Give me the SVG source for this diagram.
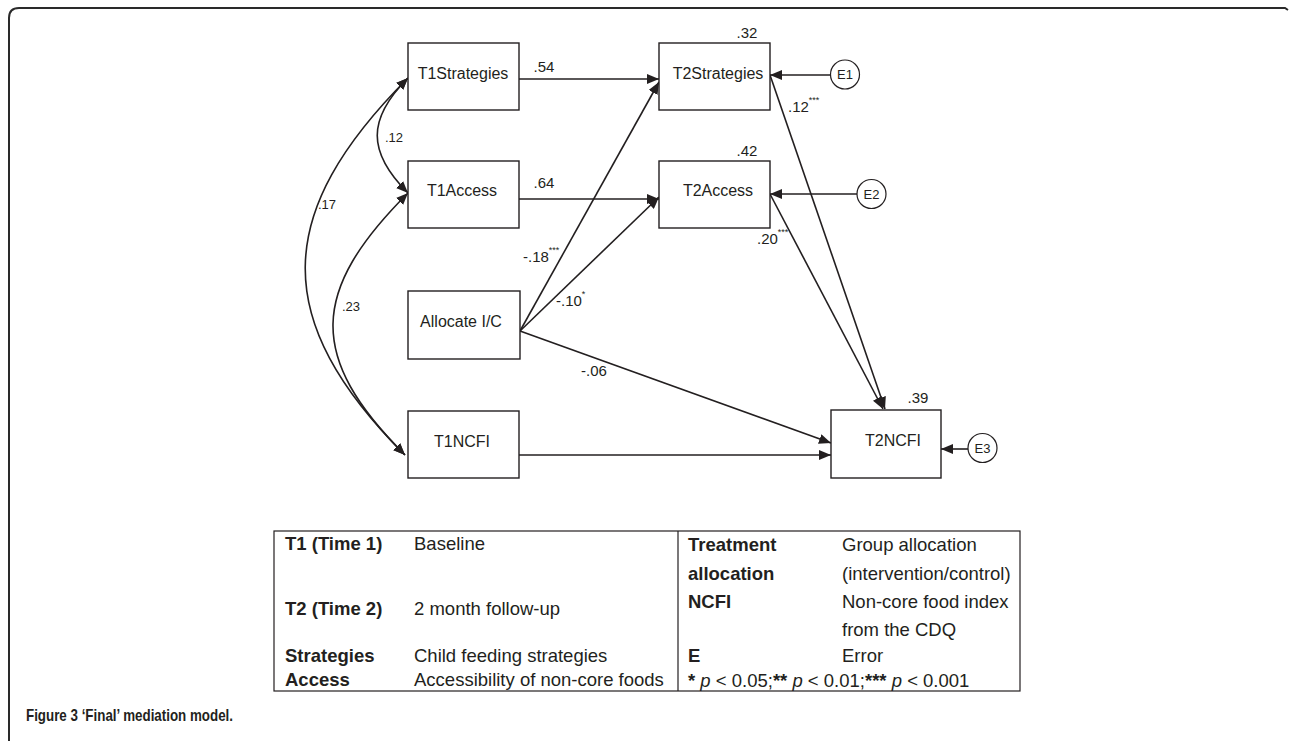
<svg xmlns="http://www.w3.org/2000/svg" width="1290" height="741" viewBox="0 0 1290 741">
<defs>
<marker id="ah" viewBox="0 0 12 10" refX="12" refY="5" markerWidth="12" markerHeight="10" markerUnits="userSpaceOnUse" orient="auto">
<path d="M0,0 L12,5 L0,10 z" fill="#231f20"/>
</marker>
<marker id="as" viewBox="0 0 12 10" refX="0" refY="5" markerWidth="12" markerHeight="10" markerUnits="userSpaceOnUse" orient="auto">
<path d="M12,0 L0,5 L12,10 z" fill="#231f20"/>
</marker>
<style>
.box{fill:#fff;stroke:#231f20;stroke-width:1.4}
.err{fill:#fff;stroke:#231f20;stroke-width:1.2}
.ln{fill:none;stroke:#231f20;stroke-width:1.6}
.nt{font-family:"Liberation Sans",Arial,sans-serif;font-size:16px;fill:#231f20;text-anchor:middle}
.el{font-family:"Liberation Sans",Arial,sans-serif;font-size:15px;fill:#231f20}
.cl{font-family:"Liberation Sans",Arial,sans-serif;font-size:13px;fill:#231f20}
.sup{font-size:9px}
.lg{font-family:"Liberation Sans",Arial,sans-serif;font-size:18.5px;fill:#231f20}
.lb{font-weight:bold}
.cap{font-family:"Liberation Sans",Arial,sans-serif;font-size:16.5px;font-weight:bold;fill:#231f20}
</style>
</defs>
<rect width="1290" height="741" fill="#fff"/>
<path d="M9,741 L9,18 Q9,8 19,8 L1285,8 L1288,10" fill="none" stroke="#2a2a2a" stroke-width="2"/>

<g id="connectors">
<path class="ln" d="M519,79 L659,79" marker-end="url(#ah)"/>
<path class="ln" d="M519,199 L659,199" marker-end="url(#ah)"/>
<path class="ln" d="M520,331 L659,82" marker-end="url(#ah)"/>
<path class="ln" d="M520,331 L659,197" marker-end="url(#ah)"/>
<path class="ln" d="M520,331 L831,443" marker-end="url(#ah)"/>
<path class="ln" d="M519,455 L831,455" marker-end="url(#ah)"/>
<path class="ln" d="M770,75 L885,409" marker-end="url(#ah)"/>
<path class="ln" d="M770,194 L883,409" marker-end="url(#ah)"/>
<path class="ln" d="M831,75 L770,75" marker-end="url(#ah)"/>
<path class="ln" d="M857,194 L770,194" marker-end="url(#ah)"/>
<path class="ln" d="M968,449 L941,449" marker-end="url(#ah)"/>
<path class="ln" d="M408,78 C367,119 367,152 408,193" marker-start="url(#as)" marker-end="url(#ah)"/>
<path class="ln" d="M408,78 C273,213 270,320 405,455" marker-start="url(#as)" marker-end="url(#ah)"/>
<path class="ln" d="M408,193 C310,291 307,357 405,455" marker-start="url(#as)" marker-end="url(#ah)"/>
<text class="el" x="544" y="72" text-anchor="middle">.54</text>
<text class="el" x="544" y="188" text-anchor="middle">.64</text>
<text class="el" x="523" y="262">-.18<tspan class="sup" dy="-9">***</tspan></text>
<text class="el" x="556" y="306">-.10<tspan class="sup" dy="-9">*</tspan></text>
<text class="el" x="581" y="376">-.06</text>
<text class="el" x="788" y="112">.12<tspan class="sup" dy="-9">***</tspan></text>
<text class="el" x="757" y="244">.20<tspan class="sup" dy="-9">***</tspan></text>
<text class="cl" x="385" y="142">.12</text>
<text class="cl" x="318" y="209">.17</text>
<text class="cl" x="342" y="311">.23</text>
</g>

<g id="T1Strategies"><rect class="box" x="408" y="43" width="111" height="67"/><text class="nt" x="463" y="79">T1Strategies</text></g>
<g id="T1Access"><rect class="box" x="408" y="161" width="111" height="67"/><text class="nt" x="462" y="196">T1Access</text></g>
<g id="AllocateIC"><rect class="box" x="408" y="291" width="112" height="68"/><text class="nt" x="461" y="327">Allocate I/C</text></g>
<g id="T1NCFI"><rect class="box" x="408" y="411" width="111" height="67"/><text class="nt" x="462" y="447">T1NCFI</text></g>
<g id="T2Strategies"><rect class="box" x="659" y="43" width="111" height="67"/><text class="nt" x="718" y="79">T2Strategies</text><text class="el" x="747" y="38" text-anchor="middle">.32</text></g>
<g id="T2Access"><rect class="box" x="659" y="161" width="111" height="67"/><text class="nt" x="718" y="196">T2Access</text><text class="el" x="747" y="156" text-anchor="middle">.42</text></g>
<g id="T2NCFI"><rect class="box" x="831" y="410" width="110" height="68"/><text class="nt" x="893" y="446">T2NCFI</text><text class="el" x="918" y="403" text-anchor="middle">.39</text></g>
<g id="E1"><circle class="err" cx="845" cy="74.5" r="14.5"/><text class="cl" x="845" y="79" text-anchor="middle">E1</text></g>
<g id="E2"><circle class="err" cx="871.5" cy="194" r="14.5"/><text class="cl" x="871.5" y="198.5" text-anchor="middle">E2</text></g>
<g id="E3"><circle class="err" cx="982.5" cy="448" r="14.5"/><text class="cl" x="982.5" y="452.5" text-anchor="middle">E3</text></g>

<g id="legend">
<rect x="274" y="531" width="746" height="160" fill="none" stroke="#231f20" stroke-width="1.2"/>
<line x1="678" y1="531" x2="678" y2="691" stroke="#231f20" stroke-width="1.2"/>
<text class="lg lb" x="285" y="550">T1 (Time 1)</text>
<text class="lg" x="414" y="550">Baseline</text>
<text class="lg lb" x="285" y="615">T2 (Time 2)</text>
<text class="lg" x="414" y="615">2 month follow-up</text>
<text class="lg lb" x="285" y="662">Strategies</text>
<text class="lg" x="414" y="662">Child feeding strategies</text>
<text class="lg lb" x="285" y="686">Access</text>
<text class="lg" x="414" y="686">Accessibility of non-core foods</text>
<text class="lg lb" x="688" y="551">Treatment</text>
<text class="lg lb" x="688" y="580">allocation</text>
<text class="lg" x="842" y="551">Group allocation</text>
<text class="lg" x="842" y="580">(intervention/control)</text>
<text class="lg lb" x="688" y="608">NCFI</text>
<text class="lg" x="842" y="608">Non-core food index</text>
<text class="lg" x="842" y="636">from the CDQ</text>
<text class="lg lb" x="688" y="662">E</text>
<text class="lg" x="842" y="662">Error</text>
<text class="lg" x="688" y="687"><tspan class="lb">*</tspan> <tspan font-style="italic">p</tspan> &lt; 0.05;<tspan class="lb">**</tspan>  <tspan font-style="italic">p</tspan> &lt; 0.01;<tspan class="lb">***</tspan>  <tspan font-style="italic">p</tspan> &lt; 0.001</text>
</g>

<text class="cap" x="26" y="721" textLength="207" lengthAdjust="spacingAndGlyphs">Figure 3 ‘Final’ mediation model.</text>
</svg>
